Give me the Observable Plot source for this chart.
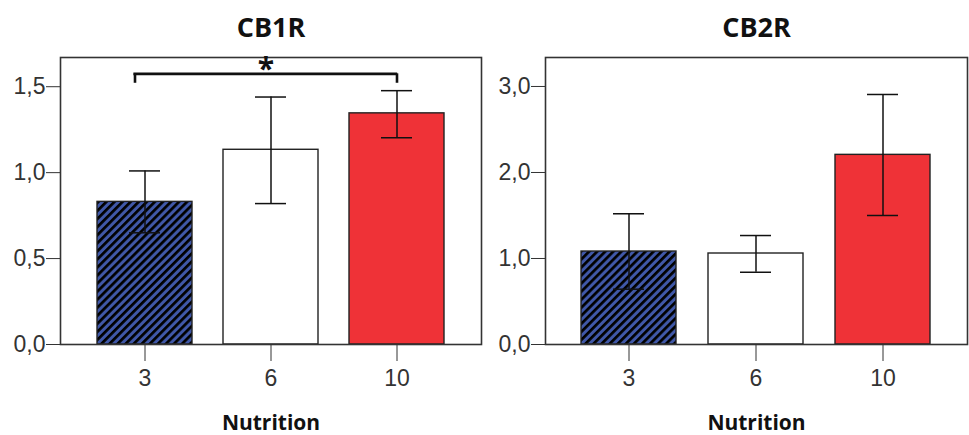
<!DOCTYPE html>
<html><head><meta charset="utf-8">
<script src="https://cdn.jsdelivr.net/npm/d3@7"></script>
<script src="https://cdn.jsdelivr.net/npm/@observablehq/plot@0.6"></script>
<style>
body{margin:0;background:#fff;}
#wrap{display:flex;width:969px;height:435px;overflow:hidden;}
#wrap svg{display:block;}
</style></head><body><div id="wrap"></div>
<script>
const categories = ["3", "6", "10"];
const cb1Mean = [0.83, 1.133, 1.345];
const cb1Low = [0.65, 0.82, 1.203];
const cb1High = [1.01, 1.44, 1.477];
const cb2Mean = [1.081, 1.058, 2.205];
const cb2Low = [0.643, 0.84, 1.50];
const cb2High = [1.52, 1.267, 2.907];
const cb1Ticks = [0, 0.5, 1.0, 1.5];
const cb2Ticks = [0, 1, 2, 3];
const cb1Domain = [0, 1.67];
const cb2Domain = [0, 3.337];
const barColors = ["hatch", "#ffffff", "#ef3237"];
const panelTitles = ["CB1R", "CB2R"];
const xLabel = "Nutrition";
const sigFrom = "3", sigTo = "10", sigY = 1.575, sigDrop = 0.055, sigLabel = "*";

function panel({id, title, means, lows, highs, ticks, domain, width, marginLeft, marginRight, sig}) {
  const patId = "hatch-" + id;
  const data = categories.map((c, i) => ({
    c, m: means[i], lo: lows[i], hi: highs[i],
    f: barColors[i] === "hatch" ? `url(#${patId})` : barColors[i]
  }));
  const marks = [
    Plot.barY(data, {x: "c", y: "m", fill: "f", stroke: "#222", strokeWidth: 1.4}),
    Plot.ruleX(data, {x: "c", y1: "lo", y2: "hi", stroke: "#111", strokeWidth: 1.5}),
    Plot.tickY(data, {x: "c", y: "hi", stroke: "#111", strokeWidth: 1.5, insetLeft: 32, insetRight: 32}),
    Plot.tickY(data, {x: "c", y: "lo", stroke: "#111", strokeWidth: 1.5, insetLeft: 32, insetRight: 32}),
    Plot.frame({stroke: "#333", strokeWidth: 1.6}),
    Plot.axisY(ticks, {tickSize: 14, tickPadding: 1, fontSize: 23, color: "#333",
      tickFormat: d => d.toFixed(1).replace(".", ","), label: null}),
    Plot.axisX({tickSize: 17, tickPadding: 8, fontSize: 23, color: "#333", label: null}),
    Plot.text([title], {text: d => d, frameAnchor: "top", dy: -21, lineAnchor: "bottom",
      fontSize: 27, fontWeight: "bold", fontFamily: "Open Sans", fill: "#111"}),
    Plot.text([xLabel], {text: d => d, frameAnchor: "bottom", dy: 85, lineAnchor: "bottom",
      fontSize: 21, fontWeight: "bold", fontFamily: "Open Sans", fill: "#111"})
  ];
  if (sig) {
    const bar = [{x1: sig.from, x2: sig.to, y: sig.y}];
    marks.push(Plot.ruleY(bar, {x1: "x1", x2: "x2", y: "y", stroke: "#111", strokeWidth: 2.6, insetLeft: 36.4, insetRight: 46.8}));
    const legs = [
      {x: sig.from, y1: sig.y - sig.drop, y2: sig.y},
      {x: sig.to, y1: sig.y - sig.drop, y2: sig.y}
    ];
    marks.push(Plot.ruleX(legs.slice(0, 1), {x: "x", y1: "y1", y2: "y2", dx: -10, stroke: "#111", strokeWidth: 2.6}));
    marks.push(Plot.ruleX(legs.slice(1), {x: "x", y1: "y1", y2: "y2", stroke: "#111", strokeWidth: 2.6}));
    marks.push(Plot.text([sig.label], {text: d => d, x: () => categories[1], y: () => sig.y,
      dx: -5, dy: 5, lineAnchor: "bottom", fontSize: 30, fontWeight: "bold", fontFamily: "Open Sans", fill: "#111"}));
  }
  const svg = Plot.plot({
    width, height: 435,
    marginTop: 57, marginBottom: 91, marginLeft, marginRight,
    style: {fontFamily: "Liberation Sans", background: "#fff"},
    x: {type: "band", domain: categories, paddingInner: 0.25, paddingOuter: 0.2825, axis: null},
    y: {domain, axis: null},
    color: {type: "identity"},
    marks
  });
  const defs = d3.select(svg).insert("defs", ":first-child");
  const p = defs.append("pattern").attr("id", patId).attr("patternUnits", "userSpaceOnUse")
    .attr("width", 5.7).attr("height", 5.7).attr("patternTransform", "rotate(45)");
  p.append("rect").attr("width", 5.7).attr("height", 5.7).attr("fill", "#4058a8");
  p.append("rect").attr("width", 2.7).attr("height", 5.7).attr("fill", "#000");
  return svg;
}

const wrap = document.getElementById("wrap");
wrap.append(panel({id: "a", title: panelTitles[0], means: cb1Mean, lows: cb1Low, highs: cb1High,
  ticks: cb1Ticks, domain: cb1Domain, width: 484, marginLeft: 60, marginRight: 3,
  sig: {from: sigFrom, to: sigTo, y: sigY, drop: sigDrop, label: sigLabel}}));
wrap.append(panel({id: "b", title: panelTitles[1], means: cb2Mean, lows: cb2Low, highs: cb2High,
  ticks: cb2Ticks, domain: cb2Domain, width: 485, marginLeft: 61, marginRight: 2}));
</script></body></html>
